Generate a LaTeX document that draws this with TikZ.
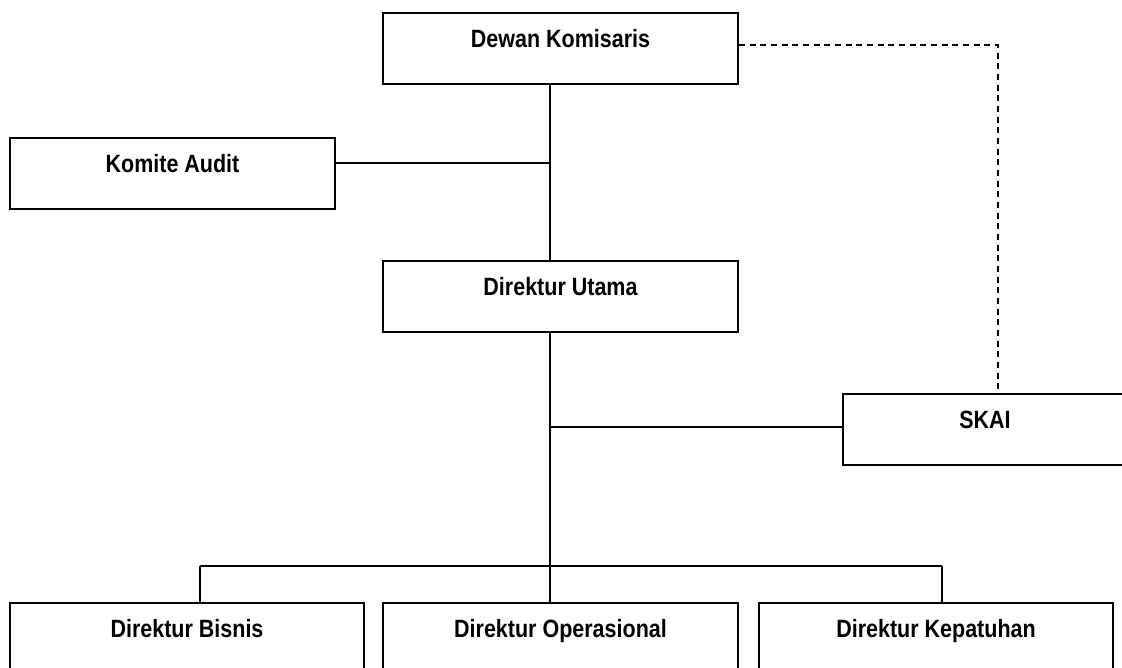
\documentclass[tikz,border=0pt]{standalone}
\usepackage{fontspec}
\setmainfont{Liberation Sans}[FakeStretch=0.86]
\usepackage{tikz}
\usetikzlibrary{positioning}

\begin{document}
\begin{tikzpicture}[x=0.75pt, y=-0.75pt,
        unit/.style = {draw, line width=1.4pt, inner sep=0pt, anchor=north,
                text height=26.25pt, text depth=27pt,
                minimum width=#1*0.75pt, font=\fontsize{18.75}{20}\selectfont\bfseries},
        link/.style = {line width=1.4pt},
        dotlink/.style = {line width=1.1pt, dash pattern=on 4.5pt off 3.5pt}]
                \clip (0,0) rectangle (1122,668);

                \node[unit=355] at (560.5, 12) (DK) {Dewan Komisaris};
                \node[unit=325] at (172.5, 137) (KA) {Komite Audit};
                \node[unit=355] at (560.5, 260) (DU) {Direktur Utama};
                \node[unit=284] at (985, 393) (SKAI) {SKAI};
                \node[unit=354] at (187, 602) (DB) {Direktur Bisnis};
                \node[unit=355] at (560.5, 602) (DO) {Direktur Operasional};
                \node[unit=354] at (936, 602) (DP) {Direktur Kepatuhan};

                % junctions
                \coordinate (jKA) at (550, 163);
                \coordinate (jSK) at (550, 427);
                \coordinate (jBus) at (550, 566);
                \coordinate (busL) at (200, 566);
                \coordinate (busR) at (942, 566);
                \coordinate (jDash) at (998, 45);

                \draw[link] (DK.south -| jKA) -- (DU.north -| jKA);
                \draw[link] (KA.east |- jKA) -- (jKA);
                \draw[link] (DU.south -| jBus) -- (jBus);
                \draw[link] (jSK) -- (SKAI.west |- jSK);

                \draw[link] (busL) -- (busR);
                \draw[link] (busL) -- (DB.north -| busL);
                \draw[link] (jBus) -- (DO.north -| jBus);
                \draw[link] (busR) -- (DP.north -| busR);

                \draw[dotlink] (DK.east |- jDash) -- (jDash) -- (SKAI.north -| jDash);
            \end{tikzpicture}
\end{document}
